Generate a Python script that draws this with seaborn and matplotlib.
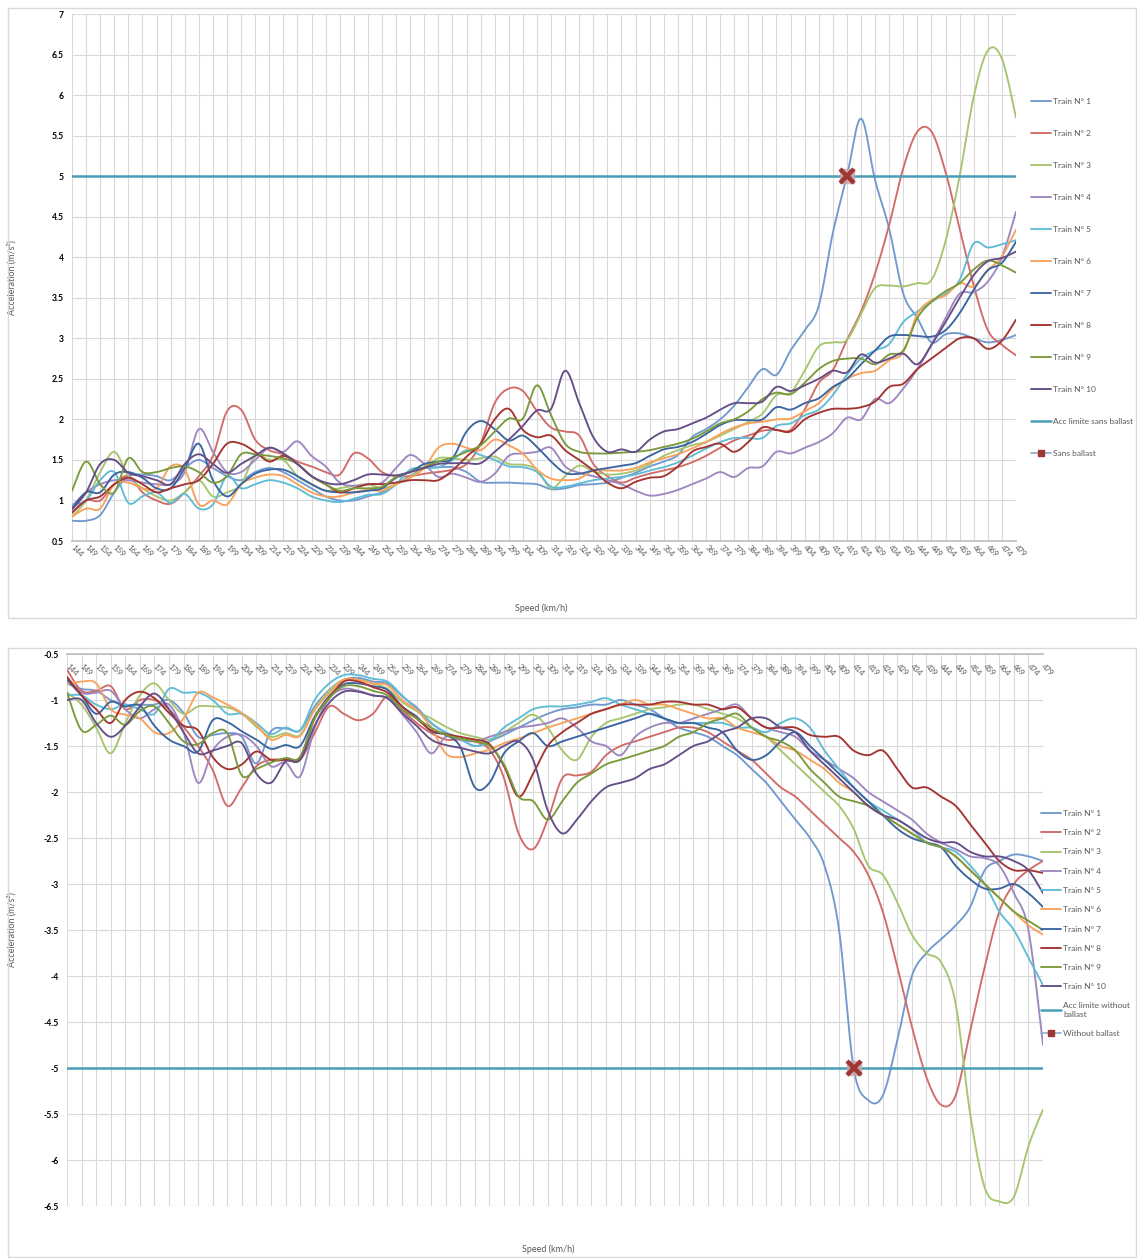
import numpy as np
import matplotlib
matplotlib.use("Agg")
import matplotlib.pyplot as plt
from matplotlib.patches import Rectangle
from matplotlib.lines import Line2D
import seaborn as sns

# ---------------------------------------------------------------- data
speeds = list(range(144, 480, 5))          # km/h categories

# positive acceleration (m/s^2), one list per train
up_1 = [0.75,0.75,0.82,1.1,1.3,1.32,1.3,1.25,1.4,1.5,1.4,1.3,1.25,1.35,1.4,1.35,1.25,1.15,1.05,1.0,1.0,1.05,1.1,
        1.2,1.3,1.4,1.41,1.41,1.35,1.23,1.22,1.22,1.21,1.2,1.14,1.15,1.19,1.2,1.22,1.28,1.34,1.42,1.48,1.56,1.78,
        1.88,2.0,2.17,2.4,2.62,2.55,2.85,3.1,3.4,4.3,5.0,5.71,4.95,4.35,3.55,3.25,2.95,3.05,3.06,3.0,2.95,2.98,3.04]
up_2 = [0.85,1.0,1.0,1.2,1.3,1.1,1.0,0.96,1.1,1.3,1.55,2.1,2.12,1.75,1.62,1.57,1.48,1.42,1.35,1.32,1.58,1.52,1.35,
        1.3,1.3,1.33,1.35,1.38,1.45,1.7,2.2,2.38,2.35,2.1,1.9,1.85,1.8,1.45,1.3,1.22,1.28,1.33,1.37,1.41,1.47,
        1.55,1.65,1.74,1.8,1.86,1.87,1.87,2.12,2.45,2.61,2.98,3.33,3.8,4.4,5.1,5.55,5.55,5.05,4.35,3.65,3.1,2.92,2.79]
up_3 = [0.8,1.0,1.35,1.6,1.3,1.15,1.05,1.0,1.1,1.25,1.05,1.1,1.2,1.55,1.5,1.5,1.3,1.2,1.12,1.15,1.18,1.2,1.15,
        1.2,1.29,1.4,1.52,1.52,1.5,1.52,1.54,1.45,1.44,1.38,1.15,1.3,1.43,1.36,1.32,1.33,1.37,1.45,1.55,1.62,1.68,
        1.72,1.8,1.88,1.97,2.07,2.3,2.33,2.6,2.9,2.95,2.98,3.3,3.62,3.65,3.64,3.68,3.72,4.2,5.0,5.98,6.55,6.45,5.72]
up_4 = [0.93,1.1,1.2,1.25,1.25,1.22,1.2,1.2,1.35,1.88,1.6,1.35,1.35,1.5,1.65,1.6,1.73,1.55,1.42,1.22,1.18,1.2,1.22,
        1.4,1.56,1.45,1.29,1.33,1.28,1.23,1.33,1.55,1.58,1.6,1.65,1.42,1.34,1.3,1.25,1.2,1.12,1.06,1.08,1.13,1.2,
        1.27,1.35,1.29,1.4,1.42,1.6,1.58,1.65,1.72,1.83,2.02,2.0,2.25,2.2,2.38,2.62,2.92,3.25,3.55,3.57,3.7,4.0,4.56]
up_5 = [0.95,1.0,1.25,1.35,0.97,1.05,1.1,0.97,1.08,0.9,0.95,1.3,1.15,1.2,1.25,1.22,1.15,1.05,1.0,0.98,1.02,1.07,1.08,
        1.2,1.38,1.4,1.41,1.5,1.62,1.56,1.5,1.42,1.41,1.35,1.17,1.17,1.21,1.25,1.27,1.29,1.32,1.37,1.41,1.47,1.55,
        1.64,1.72,1.77,1.77,1.77,1.92,1.95,2.05,2.12,2.3,2.55,2.75,2.85,2.93,3.2,3.33,3.45,3.55,3.72,4.17,4.12,4.16,4.21]
up_6 = [0.8,0.9,0.9,1.2,1.22,1.15,1.15,1.42,1.38,0.95,1.0,0.95,1.2,1.28,1.32,1.3,1.2,1.1,1.05,1.05,1.1,1.13,1.12,
        1.2,1.28,1.4,1.65,1.7,1.65,1.62,1.75,1.68,1.58,1.38,1.27,1.25,1.27,1.37,1.37,1.37,1.4,1.47,1.52,1.57,1.64,
        1.72,1.82,1.9,1.95,1.97,2.0,2.01,2.1,2.2,2.38,2.5,2.57,2.6,2.73,2.83,3.3,3.47,3.53,3.68,3.64,3.84,4.01,4.34]
up_7 = [0.9,1.1,1.1,1.32,1.35,1.28,1.15,1.15,1.4,1.7,1.25,1.05,1.2,1.33,1.38,1.38,1.3,1.2,1.12,1.1,1.1,1.12,1.15,
        1.28,1.35,1.45,1.48,1.52,1.85,1.98,1.88,1.74,1.8,1.66,1.48,1.34,1.33,1.37,1.4,1.43,1.46,1.55,1.63,1.66,1.72,
        1.82,1.93,1.99,1.99,2.0,2.15,2.12,2.2,2.26,2.4,2.5,2.68,2.85,3.02,3.04,3.03,3.02,3.1,3.31,3.6,3.84,3.93,4.19]
up_8 = [0.85,1.0,1.05,1.2,1.28,1.2,1.1,1.15,1.2,1.25,1.45,1.7,1.7,1.6,1.48,1.55,1.45,1.3,1.2,1.1,1.15,1.2,1.2,
        1.22,1.25,1.25,1.25,1.37,1.54,1.7,2.0,2.13,1.87,1.78,1.8,1.62,1.5,1.37,1.22,1.15,1.23,1.28,1.3,1.42,1.6,
        1.66,1.7,1.6,1.72,1.9,1.87,1.85,2.0,2.08,2.13,2.13,2.15,2.22,2.4,2.44,2.62,2.75,2.88,3.0,3.0,2.87,2.97,3.23]
up_9 = [1.12,1.48,1.2,1.1,1.52,1.35,1.35,1.4,1.42,1.35,1.22,1.3,1.57,1.57,1.55,1.52,1.45,1.3,1.2,1.12,1.15,1.15,1.17,
        1.29,1.35,1.41,1.48,1.53,1.6,1.68,1.85,2.01,2.01,2.42,2.05,1.7,1.6,1.58,1.58,1.59,1.6,1.62,1.66,1.7,1.76,
        1.85,1.95,2.0,2.1,2.25,2.33,2.31,2.45,2.62,2.72,2.75,2.75,2.68,2.8,2.85,3.25,3.45,3.58,3.68,3.85,3.96,3.9,3.81]
up_10 = [0.89,1.1,1.45,1.5,1.34,1.3,1.25,1.2,1.45,1.57,1.45,1.34,1.45,1.55,1.65,1.58,1.45,1.3,1.22,1.2,1.25,1.32,1.32,
         1.31,1.35,1.4,1.45,1.46,1.46,1.46,1.6,1.75,1.92,2.11,2.13,2.6,2.2,1.78,1.6,1.63,1.6,1.75,1.85,1.88,1.95,
         2.02,2.12,2.2,2.2,2.22,2.4,2.35,2.42,2.5,2.6,2.58,2.8,2.7,2.75,2.81,2.68,2.92,3.2,3.5,3.78,3.95,3.99,4.07]

# braking (negative acceleration, m/s^2), one list per train
dn_1 = [-0.82,-0.88,-0.9,-1.0,-1.05,-1.05,-1.05,-1.0,-1.14,-1.4,-1.38,-1.36,-1.4,-1.69,-1.34,-1.31,-1.33,-1.07,-0.89,-0.78,-0.76,-0.8,-0.82,
        -0.96,-1.08,-1.25,-1.36,-1.43,-1.5,-1.45,-1.38,-1.3,-1.22,-1.15,-1.1,-1.08,-1.05,-1.05,-1.0,-1.05,-1.1,-1.2,-1.3,-1.35,-1.4,
        -1.5,-1.6,-1.75,-1.9,-2.1,-2.3,-2.5,-2.8,-3.5,-5.0,-5.35,-5.3,-4.7,-4.0,-3.75,-3.6,-3.45,-3.25,-2.85,-2.75,-2.68,-2.7,-2.75]
dn_2 = [-0.67,-0.9,-0.9,-0.85,-1.1,-1.0,-1.0,-1.1,-1.29,-1.5,-1.76,-2.15,-1.95,-1.72,-1.65,-1.65,-1.65,-1.36,-1.07,-1.15,-1.22,-1.15,-0.96,
        -1.11,-1.25,-1.36,-1.43,-1.43,-1.45,-1.54,-1.85,-2.45,-2.62,-2.3,-1.85,-1.82,-1.78,-1.6,-1.5,-1.45,-1.4,-1.35,-1.3,-1.3,-1.35,
        -1.45,-1.55,-1.65,-1.8,-1.95,-2.05,-2.2,-2.35,-2.5,-2.65,-2.9,-3.3,-3.9,-4.55,-5.1,-5.4,-5.3,-4.6,-3.9,-3.3,-3.0,-2.85,-2.75]
dn_3 = [-0.92,-1.05,-1.3,-1.58,-1.25,-0.95,-0.82,-1.0,-1.15,-1.07,-1.07,-1.08,-1.15,-1.29,-1.4,-1.36,-1.38,-1.1,-0.9,-0.78,-0.78,-0.82,-0.88,
        -1.02,-1.12,-1.2,-1.29,-1.36,-1.4,-1.43,-1.35,-1.25,-1.16,-1.3,-1.55,-1.65,-1.4,-1.25,-1.2,-1.15,-1.1,-1.08,-1.05,-1.05,-1.1,
        -1.15,-1.2,-1.3,-1.4,-1.55,-1.7,-1.85,-2.0,-2.15,-2.4,-2.8,-2.9,-3.2,-3.55,-3.75,-3.85,-4.3,-5.5,-6.3,-6.45,-6.4,-5.85,-5.45]
dn_4 = [-0.75,-0.92,-0.92,-0.9,-1.1,-1.2,-1.1,-1.05,-1.35,-1.9,-1.55,-1.4,-1.38,-1.5,-1.72,-1.68,-1.83,-1.3,-0.98,-0.88,-0.9,-0.95,-0.98,
        -1.15,-1.35,-1.58,-1.4,-1.43,-1.45,-1.4,-1.35,-1.3,-1.28,-1.25,-1.2,-1.3,-1.45,-1.5,-1.6,-1.4,-1.3,-1.25,-1.25,-1.2,-1.15,
        -1.1,-1.05,-1.2,-1.3,-1.35,-1.4,-1.55,-1.65,-1.75,-1.85,-2.0,-2.1,-2.2,-2.3,-2.45,-2.55,-2.62,-2.7,-2.72,-2.8,-3.1,-3.5,-4.75]
dn_5 = [-0.95,-0.95,-1.05,-1.1,-1.05,-1.1,-1.15,-0.88,-0.92,-0.92,-1.0,-1.15,-1.15,-1.25,-1.37,-1.3,-1.33,-1.0,-0.82,-0.73,-0.73,-0.77,-0.8,
        -0.95,-1.1,-1.25,-1.35,-1.42,-1.5,-1.45,-1.3,-1.2,-1.1,-1.07,-1.07,-1.05,-1.02,-0.98,-1.05,-1.1,-1.15,-1.2,-1.25,-1.25,-1.25,
        -1.25,-1.3,-1.3,-1.35,-1.25,-1.2,-1.3,-1.55,-1.75,-1.95,-2.1,-2.2,-2.3,-2.4,-2.55,-2.6,-2.65,-2.8,-3.0,-3.3,-3.5,-3.8,-4.1]
dn_6 = [-0.83,-0.8,-0.82,-1.1,-1.16,-1.2,-1.35,-1.36,-1.2,-0.92,-0.97,-1.05,-1.14,-1.27,-1.43,-1.38,-1.39,-1.11,-0.93,-0.78,-0.78,-0.82,-0.84,
        -1.0,-1.11,-1.3,-1.58,-1.62,-1.58,-1.54,-1.47,-1.42,-1.36,-1.3,-1.25,-1.2,-1.15,-1.1,-1.05,-1.0,-1.05,-1.05,-1.1,-1.15,-1.2,
        -1.2,-1.3,-1.35,-1.4,-1.5,-1.55,-1.65,-1.75,-1.9,-2.0,-2.15,-2.25,-2.35,-2.45,-2.55,-2.6,-2.7,-2.85,-3.0,-3.15,-3.3,-3.45,-3.55]
dn_7 = [-0.78,-0.95,-1.15,-1.02,-1.07,-1.06,-1.28,-1.43,-1.5,-1.56,-1.22,-1.24,-1.34,-1.43,-1.53,-1.49,-1.5,-1.18,-0.96,-0.83,-0.82,-0.85,-0.89,
        -1.07,-1.18,-1.34,-1.38,-1.51,-1.95,-1.9,-1.58,-1.45,-1.36,-1.5,-1.45,-1.4,-1.35,-1.3,-1.25,-1.2,-1.15,-1.2,-1.25,-1.25,-1.3,
        -1.35,-1.55,-1.65,-1.6,-1.45,-1.35,-1.5,-1.65,-1.8,-1.95,-2.1,-2.25,-2.4,-2.5,-2.55,-2.6,-2.8,-2.95,-3.05,-3.05,-3.0,-3.1,-3.25]
dn_8 = [-0.75,-0.95,-1.1,-1.25,-1.0,-0.91,-0.98,-1.14,-1.28,-1.33,-1.62,-1.75,-1.7,-1.56,-1.65,-1.65,-1.62,-1.2,-0.98,-0.8,-0.8,-0.86,-0.92,
        -1.07,-1.2,-1.33,-1.37,-1.4,-1.43,-1.48,-1.72,-2.05,-1.8,-1.5,-1.35,-1.25,-1.15,-1.1,-1.05,-1.05,-1.05,-1.02,-1.02,-1.05,-1.05,
        -1.1,-1.08,-1.2,-1.3,-1.3,-1.3,-1.38,-1.4,-1.4,-1.55,-1.6,-1.55,-1.75,-1.95,-1.95,-2.05,-2.15,-2.35,-2.55,-2.75,-2.85,-2.85,-2.88]
dn_9 = [-0.92,-1.33,-1.27,-1.17,-1.27,-1.12,-1.07,-1.25,-1.45,-1.48,-1.36,-1.36,-1.82,-1.75,-1.68,-1.63,-1.62,-1.2,-0.98,-0.85,-0.85,-0.9,-0.95,
        -1.1,-1.2,-1.3,-1.38,-1.42,-1.45,-1.5,-1.7,-2.05,-2.1,-2.3,-2.1,-1.9,-1.8,-1.7,-1.65,-1.6,-1.55,-1.5,-1.4,-1.35,-1.25,
        -1.2,-1.15,-1.3,-1.4,-1.45,-1.55,-1.75,-1.9,-2.05,-2.1,-2.15,-2.25,-2.35,-2.45,-2.55,-2.6,-2.7,-2.85,-3.0,-3.15,-3.3,-3.4,-3.5]
dn_10 = [-1.0,-1.0,-1.25,-1.4,-1.28,-1.07,-0.93,-1.1,-1.35,-1.58,-1.55,-1.5,-1.47,-1.8,-1.9,-1.67,-1.65,-1.28,-1.03,-0.91,-0.91,-0.95,-0.98,
         -1.14,-1.28,-1.43,-1.49,-1.52,-1.56,-1.58,-1.5,-1.45,-1.65,-2.2,-2.45,-2.3,-2.1,-1.95,-1.9,-1.85,-1.75,-1.7,-1.6,-1.5,-1.45,
         -1.35,-1.3,-1.2,-1.2,-1.3,-1.35,-1.55,-1.7,-1.85,-2.0,-2.15,-2.25,-2.3,-2.4,-2.5,-2.55,-2.55,-2.65,-2.7,-2.7,-2.75,-2.85,-3.1]

limit_up = 5.0
limit_dn = -5.0
cross_up_speed, cross_up_value = 419, 5.0     # first train reaching the limit
cross_dn_speed, cross_dn_value = 414, -5.0

train_names = [f"Train N° {k}" for k in range(1, 11)]
train_colors = ["#7299CF", "#D26B68", "#A7C56F", "#9E87C0", "#60BCD6",
                "#F8A25C", "#3B65A1", "#A43431", "#7A9A3B", "#654E87"]
ups = [up_1, up_2, up_3, up_4, up_5, up_6, up_7, up_8, up_9, up_10]
dns = [dn_1, dn_2, dn_3, dn_4, dn_5, dn_6, dn_7, dn_8, dn_9, dn_10]

# ---------------------------------------------------------------- style
sns.set_theme(style="white")
plt.rcParams["font.family"] = ["Lato", "DejaVu Sans"]
GRID = "#D9D9D9"
TXT = "#595959"
LIMIT_COLOR = "#4A9DB6"


def smoothed(values, steps=16):
    """Bezier-smoothed polyline through each category point (Excel style)."""
    y = np.asarray(values, float)
    x = np.arange(len(y), dtype=float)
    t = np.linspace(0, 1, steps, endpoint=False)[:, None]
    xs, ys = [], []
    n = len(y)
    for k in range(n - 1):
        a, b = max(k - 1, 0), min(k + 2, n - 1)
        p1 = np.array([x[k], y[k]]); p2 = np.array([x[k + 1], y[k + 1]])
        c1 = p1 + (p2 - np.array([x[a], y[a]])) / 6
        c2 = p2 - (np.array([x[b], y[b]]) - p1) / 6
        pts = ((1 - t) ** 3) * p1 + 3 * ((1 - t) ** 2) * t * c1 + 3 * (1 - t) * t ** 2 * c2 + t ** 3 * p2
        xs.append(pts[:, 0]); ys.append(pts[:, 1])
    xs.append([x[-1]]); ys.append([y[-1]])
    return np.concatenate(xs), np.concatenate(ys)


fig = plt.figure(figsize=(11.37, 12.58), dpi=100)
W, H = 1137, 1258


def box(l, t, r, b):
    return [l / W, 1 - b / H, (r - l) / W, (b - t) / H]


# panel frames
for (l, t, r, b) in [(8, 8, 1136, 618), (8, 648, 1136, 1257)]:
    fig.patches.append(Rectangle((l / W, 1 - b / H), (r - l) / W, (b - t) / H,
                                 transform=fig.transFigure, fill=False,
                                 edgecolor="#D9D9D9", lw=1.0))

ax1 = fig.add_axes(box(72, 14, 1016, 541))
ax2 = fig.add_axes(box(67, 654, 1043, 1206))
cats = np.arange(len(speeds))


def draw_panel(ax, series, limit, cross_speed, cross_value, limit_label, cross_label):
    for name, col, vals in zip(train_names, train_colors, series):
        sx, sy = smoothed(vals)
        sns.lineplot(x=sx, y=sy, ax=ax, color=col, lw=1.35, sort=False,
                     estimator=None, label=name)
    sns.lineplot(x=cats, y=np.full(len(cats), limit), ax=ax, color=LIMIT_COLOR,
                 lw=1.8, label=limit_label)
    ci = speeds.index(cross_speed)
    ax.plot([ci], [cross_value], marker="s", ms=10, mfc="#C9A3A3", mec="#C9A3A3",
            ls="none", alpha=0.8, zorder=5)
    ax.plot([ci], [cross_value], marker="x", ms=10, mew=3.2, color="#9E3633",
            ls="none", zorder=6)
    ax.set_xlim(0, len(speeds) - 1)
    ax.set_xticks(cats)
    ax.set_xticklabels([str(s) for s in speeds])
    ax.grid(True, color=GRID, lw=0.8)
    ax.set_axisbelow(True)
    for s in ax.spines.values():
        s.set_visible(False)
    ax.tick_params(axis="both", length=0)
    handles, labels = ax.get_legend_handles_labels()
    ax.get_legend().remove()
    handles.append(Line2D([], [], color="#8FA9CC", lw=1.2, marker="s", ms=4.5,
                          mfc="#9E3633", mec="#9E3633"))
    labels.append(cross_label)
    return handles, labels


def fmt(v):
    return f"{v:g}"


# ---- upper panel: acceleration
h1, l1 = draw_panel(ax1, ups, limit_up, cross_up_speed, cross_up_value,
                    "Acc limite sans ballast", "Sans ballast")
ax1.set_ylim(0.5, 7)
yt = np.arange(0.5, 7.01, 0.5)
ax1.set_yticks(yt)
ax1.set_yticklabels([fmt(v) for v in yt], fontweight="bold", fontsize=6.2, color="black")
ax1.spines["bottom"].set_visible(True)
ax1.spines["bottom"].set_color("#BFBFBF")
ax1.tick_params(axis="x", pad=4, labelsize=5.6, labelcolor=TXT)
ax1.tick_params(axis="y", pad=6)
for lab in ax1.get_xticklabels():
    lab.set_rotation(-45); lab.set_ha("left"); lab.set_va("center")
    lab.set_rotation_mode("anchor")
ax1.set_ylabel("Acceleration (m/s²)", fontsize=6.5, color=TXT)
ax1.yaxis.set_label_coords((17 - 72) / 944, 0.5)
ax1.set_xlabel("Speed (km/h)", fontsize=6.5, color=TXT)
ax1.xaxis.set_label_coords(0.497, -0.118)
fig.legend(h1, l1, loc="upper left", bbox_to_anchor=(1031 / W, 1 - 98 / H),
           frameon=False, fontsize=6, labelcolor=TXT, labelspacing=3.0,
           handlelength=2.4, handletextpad=0.25, borderpad=0, borderaxespad=0)

# ---- lower panel: braking
h2, l2 = draw_panel(ax2, dns, limit_dn, cross_dn_speed, cross_dn_value,
                    "Acc limite without\nballast", "Without ballast")
ax2.set_ylim(-6.5, -0.5)
yt2 = np.arange(-6.5, -0.49, 0.5)
ax2.set_yticks(yt2)
ax2.set_yticklabels([fmt(v) for v in yt2], fontweight="bold", fontsize=6.2, color="black")
ax2.spines["top"].set_visible(True)
ax2.spines["top"].set_color("#BFBFBF")
ax2.tick_params(axis="x", labelbottom=False, labeltop=True, pad=-8,
                labelsize=5.6, labelcolor=TXT)
ax2.tick_params(axis="y", pad=6)
for lab in ax2.get_xticklabels():
    lab.set_rotation(-45); lab.set_ha("left"); lab.set_va("center")
    lab.set_rotation_mode("anchor")
ax2.set_ylabel("Acceleration (m/s²)", fontsize=6.5, color=TXT)
ax2.yaxis.set_label_coords((17 - 67) / 976, 0.5)
ax2.set_xlabel("Speed (km/h)", fontsize=6.5, color=TXT)
ax2.xaxis.set_label_position("bottom")
ax2.xaxis.set_label_coords(0.493, -0.07)
fig.legend(h2, l2, loc="upper left", bbox_to_anchor=(1041 / W, 1 - 810 / H),
           frameon=False, fontsize=6, labelcolor=TXT, labelspacing=1.47,
           handlelength=2.4, handletextpad=0.25, borderpad=0, borderaxespad=0)

fig.savefig("out.png", dpi=100, facecolor="white")
